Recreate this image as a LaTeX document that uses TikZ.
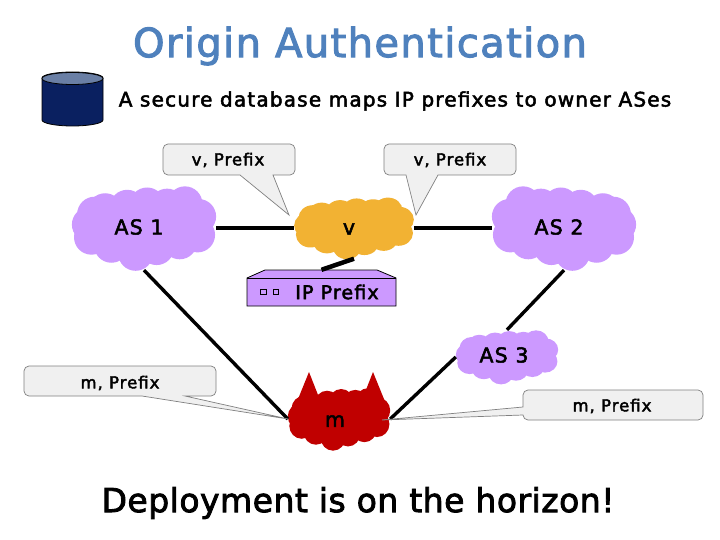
\documentclass[tikz,border=0pt]{standalone}
\usepackage{fontspec}
\setmainfont[LetterSpace=6,FakeBold=2.5]{DejaVu Sans}
\newfontfamily\titlefont[LetterSpace=3.5,FakeBold=2.5]{DejaVu Sans}
\newfontfamily\footfont[LetterSpace=1.5,FakeBold=2.5]{DejaVu Sans}
\usetikzlibrary{shapes.geometric}
\definecolor{lilac}{HTML}{CC99FF}
\definecolor{gold}{HTML}{F2B233}
\definecolor{devil}{HTML}{C00000}
\definecolor{titleblue}{HTML}{4F81BD}
\definecolor{navy}{HTML}{0A2060}
\definecolor{dbtop}{HTML}{6A7FA5}
\definecolor{calloutfill}{HTML}{F0F0F0}
\newcommand{\cloudshape}[6]{% cx cy sx sy colour flip
  \begin{scope}[shift={(#1,#2)},xscale=#3*#6,yscale=#4]
    \fill[#5] (0,0) ellipse [x radius=58,y radius=28];
    \foreach \a/\b in {-37/-15,-16/-18,3/-20,22/-19,39/-21,52/-10,51/6,34/12,12/17,-8/22,-31/15,-50/8,-52/-3,-47/-12}
      \fill[#5] (1.05*\a,1.15*\b) circle [radius=17.5];
  \end{scope}}
\tikzset{
  x=1pt,y=-1pt,
  cloudnode/.style={ellipse,inner sep=0pt},
  cloudlabel/.style={inner sep=0pt,font=\fontsize{20.5}{24}\selectfont},
  link/.style={line width=3.4pt,black},
  callout/.style={draw=gray,fill=calloutfill,line width=0.7pt},
  calltext/.style={inner sep=0pt,font=\fontsize{16.5}{18}\selectfont},
  boxline/.style={draw=black,line width=0.8pt},
}
\begin{document}
\begin{tikzpicture}
\useasboundingbox (0,0) rectangle (720,540);
\fill[white] (0,0) rectangle (720,540);
% title
\node[inner sep=0pt,text=titleblue,font=\titlefont\fontsize{40}{44}\selectfont] (title) at (360,46) {Origin Authentication};
\node[inner sep=0pt,font=\fontsize{20}{24}\selectfont] (sub) at (395,101) {A secure database maps IP prefixes to owner ASes};
\node[inner sep=0pt,font=\footfont\fontsize{33}{40}\selectfont] (foot) at (358,503) {Deployment is on the horizon!};
% database
\path[boxline,fill=navy] (42,78) -- (42,120) arc [start angle=180,end angle=0,x radius=30.5,y radius=6] -- (103,78) arc [start angle=0,end angle=-180,x radius=30.5,y radius=6] -- cycle;
\path[boxline,fill=dbtop] (72.5,78.5) ellipse [x radius=30.5,y radius=6];
% clouds
\cloudshape{144}{228}{1}{1}{lilac}{1}
\cloudshape{354}{228}{.83}{.73}{gold}{1}
\cloudshape{564}{228}{1}{1}{lilac}{-1}
\cloudshape{507}{357}{.71}{.64}{lilac}{1}
\fill[devil] (296,404) -- (309,372) -- (320,400) -- cycle;
\fill[devil] (362,400) -- (373,372) -- (386,404) -- cycle;
\cloudshape{339}{419}{.71}{.74}{devil}{1}
\node[cloudnode,minimum width=144pt,minimum height=84pt] (as1) at (144,228) {};
\node[cloudnode,minimum width=120pt,minimum height=61pt] (v) at (354,228) {};
\node[cloudnode,minimum width=144pt,minimum height=84pt] (as2) at (564,228) {};
\node[cloudnode,minimum width=102pt,minimum height=54pt] (as3) at (507,357) {};
\node[cloudnode,minimum width=102pt,minimum height=62pt] (m) at (339,419) {};
\node[cloudlabel] (as1t) at (139,227) {AS 1};
\node[cloudlabel] (vt) at (349,229) {v};
\node[cloudlabel] (as2t) at (559,227) {AS 2};
\node[cloudlabel] (as3t) at (504,355) {AS 3};
\node[cloudlabel] (mt) at (335,421) {m};
% router
\path[boxline,fill=lilac] (247,306) -- (247,278) -- (265,270) -- (377,270) -- (396,278) -- (396,306) -- cycle;
\draw[line width=0.7pt] (247,278) -- (396,278);
\draw[line width=0.6pt] (260.5,289) rectangle (266,294);
\draw[line width=0.6pt] (273,289) rectangle (278.5,294);
\node[inner sep=0pt,minimum width=149pt,minimum height=36pt] (router) at (321.5,288) {};
\node[font=\fontsize{19}{22}\selectfont,inner sep=0pt] (rt) at (337,292) {IP Prefix};
% links
\draw[link] (as1.east) -- (v.west);
\draw[link] (v.east) -- (as2.west);
\draw[link] (as1.south) -- (m.west);
\draw[link] (as2.south) -- (as3.north);
\draw[link] (as3.west) -- (m.east);
\draw[line width=4.5pt] (v.south) -- (router.north);
% callouts
\path[callout] (168,144) -- (290,144) arc [start angle=-90,end angle=0,radius=5] -- (295,170) arc [start angle=0,end angle=90,radius=5] -- (273,175) -- (289,215) -- (240,175) -- (168,175) arc [start angle=90,end angle=180,radius=5] -- (163,149) arc [start angle=180,end angle=270,radius=5] -- cycle;
\path[callout] (389,144) -- (511,144) arc [start angle=-90,end angle=0,radius=5] -- (516,170) arc [start angle=0,end angle=90,radius=5] -- (438,175) -- (416,215) -- (406,175) -- (389,175) arc [start angle=90,end angle=180,radius=5] -- (384,149) arc [start angle=180,end angle=270,radius=5] -- cycle;
\path[callout] (29,366) -- (211,366) arc [start angle=-90,end angle=0,radius=5] -- (216,391) arc [start angle=0,end angle=90,radius=5] -- (185,396) -- (288,419) -- (142,396) -- (29,396) arc [start angle=90,end angle=180,radius=5] -- (24,371) arc [start angle=180,end angle=270,radius=5] -- cycle;
\path[callout] (528,390) -- (698,390) arc [start angle=-90,end angle=0,radius=5] -- (703,415) arc [start angle=0,end angle=90,radius=5] -- (528,420) arc [start angle=90,end angle=180,radius=5] -- (523,415) -- (382,420) -- (523,407) -- (523,395) arc [start angle=180,end angle=270,radius=5] -- cycle;
\node[calltext] (c1) at (228,160) {v, Prefix};
\node[calltext] (c2) at (450,160) {v, Prefix};
\node[calltext] (c3) at (120,383) {m, Prefix};
\node[calltext] (c4) at (612,406) {m, Prefix};
\end{tikzpicture}
\end{document}
